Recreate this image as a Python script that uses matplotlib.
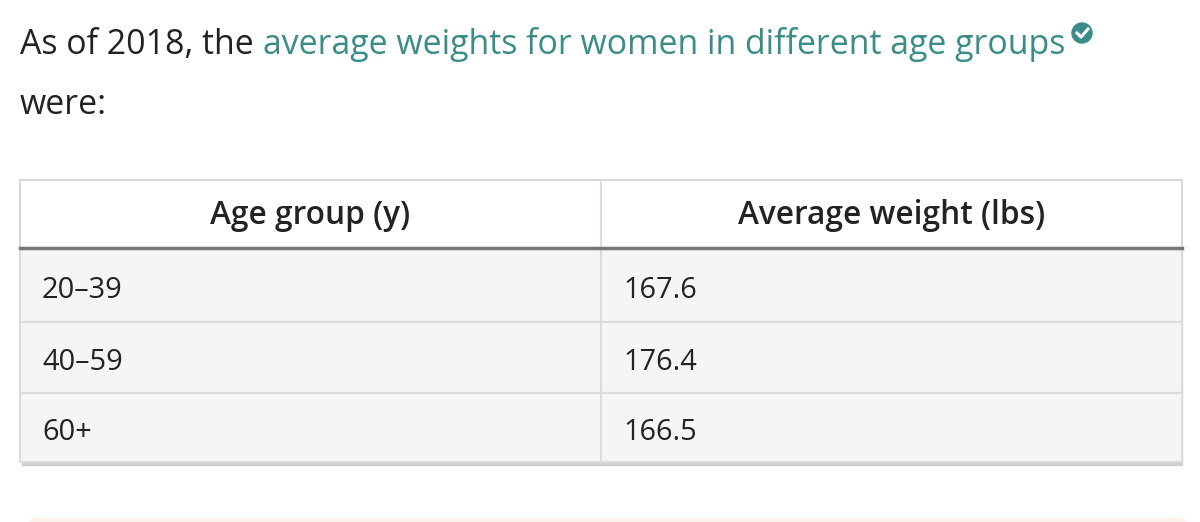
import matplotlib
matplotlib.use("Agg")
import matplotlib.pyplot as plt
from matplotlib.patches import Rectangle, FancyBboxPatch, Circle

headers = ["Age group (y)", "Average weight (lbs)"]
age_groups = ["20–39", "40–59", "60+"]
avg_weights = [167.6, 176.4, 166.5]

teal = "#3a8c88"
fig = plt.figure(figsize=(12, 5.22), dpi=100)
ax = fig.add_axes([0, 0, 1, 1])
ax.set_xlim(0, 1200); ax.set_ylim(522, 0); ax.axis("off")
font = "Open Sans"
r = fig.canvas.get_renderer()

def fit(s, width, **kw):
    t = ax.text(0, 0, s, fontsize=20, family=font, **kw)
    w = t.get_window_extent(r).width
    t.remove()
    return 20 * width / w

fs_title = fit("average weights for women in different age groups", 802)
fs_head = fit(headers[1], 307, weight="semibold")
fs_body = fit("167.6", 74)

ax.text(20, 45, "As of 2018, the ", fontsize=fs_title, family=font, color="#222", va="center")
ax.text(263, 45, "average weights for women in different age groups", fontsize=fs_title, family=font, color=teal, va="center")
ax.add_patch(Circle((1082, 33), 10, color=teal))
ax.plot([1077, 1081, 1088], [33, 37, 29], color="white", lw=2.2)
ax.text(20, 105, "were:", fontsize=fs_title, family=font, color="#222", va="center")

L, R, M = 20, 1182, 601
top, hb = 180, 248
row_edges = [248, 322, 393, 462]
ax.add_patch(Rectangle((L+2, hb+3), R-L-2, row_edges[-1]-hb, color="#d0d0d0", zorder=0))
ax.add_patch(Rectangle((L, top), R-L, hb-top, facecolor="white", edgecolor="#d8d8d8", lw=1.5))
for i in range(len(age_groups)):
    y0, y1 = row_edges[i], row_edges[i+1]
    ax.add_patch(Rectangle((L, y0), R-L, y1-y0, facecolor="#f5f5f5", edgecolor="#dcdcdc", lw=1.5))
    ax.text(42, (y0+y1)/2 + 5, age_groups[i], fontsize=fs_body, family=font, color="#222", va="center")
    ax.text(623, (y0+y1)/2 + 5, f"{avg_weights[i]:.1f}", fontsize=fs_body, family=font, color="#222", va="center")
ax.plot([M, M], [top, row_edges[-1]], color="#dcdcdc", lw=1.5)
ax.plot([L, R], [hb, hb], color="#777", lw=2.5)
ax.text((L+M)/2, 216, headers[0], fontsize=fs_head, family=font, weight="semibold", color="#222", ha="center", va="center")
ax.text((M+R)/2, 216, headers[1], fontsize=fs_head, family=font, weight="semibold", color="#222", ha="center", va="center")

ax.add_patch(FancyBboxPatch((28, 518), 1160, 20, boxstyle="round,pad=0,rounding_size=8", facecolor="#fdf3ec", edgecolor="none"))

fig.savefig("out.png", dpi=100)
